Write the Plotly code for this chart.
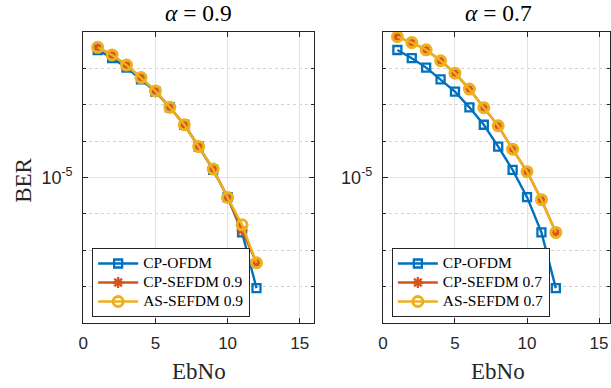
import plotly.graph_objects as go

# ---------------- data ----------------
ebno = [1, 2, 3, 4, 5, 6, 7, 8, 9, 10, 11, 12]

ber_cp_ofdm = [3.20e-2, 1.91e-2, 1.05e-2, 5.0e-3, 2.29e-3, 8.5e-4, 2.82e-4,
               7.1e-5, 1.62e-5, 2.88e-6, 3.1e-7, 9.1e-9]

ber_cp_sefdm_09 = [3.8e-2, 2.34e-2, 1.23e-2, 5.6e-3, 2.4e-3, 8.5e-4, 2.82e-4,
                   7.1e-5, 1.70e-5, 2.82e-6, 3.5e-7, 4.5e-8]
ber_as_sefdm_09 = [3.8e-2, 2.34e-2, 1.23e-2, 5.6e-3, 2.4e-3, 8.5e-4, 2.82e-4,
                   7.1e-5, 1.70e-5, 2.82e-6, 5.0e-7, 4.5e-8]

ber_cp_sefdm_07 = [7.41e-2, 5.13e-2, 3.24e-2, 1.62e-2, 7.4e-3, 2.69e-3, 8.3e-4,
                   2.63e-4, 6.0e-5, 1.45e-5, 2.45e-6, 3.1e-7]
ber_as_sefdm_07 = [7.41e-2, 5.13e-2, 3.24e-2, 1.62e-2, 7.4e-3, 2.69e-3, 8.3e-4,
                   2.63e-4, 6.0e-5, 1.45e-5, 2.45e-6, 3.1e-7]

x_ticks = [0, 5, 10, 15]
y_major = [1e-5]
y_major_text = ["10<sup>-5</sup>"]
y_minor = [1e-9, 1e-8, 1e-7, 1e-6, 1e-4, 1e-3, 1e-2, 1e-1]

titles = ["<i>α</i> = 0.9", "<i>α</i> = 0.7"]
names_left = ["CP-OFDM", "CP-SEFDM 0.9", "AS-SEFDM 0.9"]
names_right = ["CP-OFDM", "CP-SEFDM 0.7", "AS-SEFDM 0.7"]

# ---------------- styles ----------------
BLUE = "#0072BD"
ORANGE = "#D95319"
YELLOW = "#EDB120"
SERIF = "Liberation Serif"
SANS = "Liberation Sans"
AXC = "#262626"


def big(s):
    return '<span style="font-size:15.5px">' + s + "</span>"


def add_set(fig, xa, ya, leg, names, y1, y2, y3):
    fig.add_trace(go.Scatter(
        x=ebno, y=y1, name=big(names[0]), xaxis=xa, yaxis=ya, legend=leg,
        mode="lines+markers",
        line=dict(color=BLUE, width=2.4),
        marker=dict(symbol="square-open", size=8, color=BLUE,
                    line=dict(color=BLUE, width=2.3))))
    fig.add_trace(go.Scatter(
        x=ebno, y=y2, name=big(names[1]), xaxis=xa, yaxis=ya, legend=leg,
        mode="lines+markers",
        line=dict(color=ORANGE, width=2.4),
        marker=dict(symbol="asterisk-open", size=9, color=ORANGE,
                    line=dict(color=ORANGE, width=2.3))))
    fig.add_trace(go.Scatter(
        x=ebno, y=y3, name=big(names[2]), xaxis=xa, yaxis=ya, legend=leg,
        mode="lines+markers",
        line=dict(color=YELLOW, width=2.4),
        marker=dict(symbol="circle-open", size=10, color=YELLOW,
                    line=dict(color=YELLOW, width=3))))


fig = go.Figure()
add_set(fig, "x", "y", "legend", names_left,
        ber_cp_ofdm, ber_cp_sefdm_09, ber_as_sefdm_09)
add_set(fig, "x2", "y2", "legend2", names_right,
        ber_cp_ofdm, ber_cp_sefdm_07, ber_as_sefdm_07)

W, H = 611, 388
xl0, xl1 = 79 / W, 312.3 / W
xr0, xr1 = 381.7 / W, 1.0
yd = [(H - 323) / H, (H - 32) / H]


def xaxis(domain, rng, anchor):
    return dict(domain=domain, range=rng, anchor=anchor,
                tickmode="array", tickvals=x_ticks,
                ticks="inside", ticklen=5, tickcolor=AXC,
                showline=True, linecolor=AXC, linewidth=1, mirror="allticks",
                showgrid=True, gridcolor="#e3e3e3", gridwidth=1,
                zeroline=False, ticklabelstandoff=5,
                tickfont=dict(family=SANS, size=17, color=AXC))


def yaxis(anchor, mirror):
    return dict(domain=yd, type="log", range=[-9, -1], anchor=anchor,
                tickmode="array", tickvals=y_major, ticktext=y_major_text,
                ticks="inside", ticklen=5, tickcolor=AXC,
                showline=True, linecolor=AXC, linewidth=1, mirror=mirror,
                showgrid=True, gridcolor="#e3e3e3", gridwidth=1,
                zeroline=False, ticklabelstandoff=6,
                minor=dict(tickmode="array", tickvals=y_minor, ticks="inside",
                           ticklen=3, tickcolor=AXC, showgrid=True,
                           griddash="dot", gridcolor="#d2d2d2", gridwidth=1),
                tickfont=dict(family=SANS, size=18, color=AXC))


def legend(x, y):
    return dict(x=x, y=y, xanchor="left", yanchor="top",
                bgcolor="white", bordercolor=AXC, borderwidth=1,
                font=dict(family=SERIF, size=11.5, color="#000"),
                itemwidth=40, tracegroupgap=0)


def ann(text, x, y, size, angle=0, color="#000"):
    return dict(text=text, x=x, y=y, xref="paper", yref="paper",
                xanchor="center", yanchor="middle", showarrow=False,
                textangle=angle,
                font=dict(family=SERIF, size=size, color=color))


fig.update_layout(
    width=W, height=H,
    margin=dict(l=0, r=0, t=0, b=0),
    paper_bgcolor="white", plot_bgcolor="white",
    showlegend=True,
    xaxis=xaxis([xl0, xl1], [0, 16], "y"),
    yaxis=yaxis("x", "allticks"),
    xaxis2=xaxis([xr0, xr1], [0, 15.76], "y2"),
    yaxis2=yaxis("x2", "allticks"),
    legend=legend(88 / W, 1 - 248 / H),
    legend2=legend(390.7 / W, 1 - 248 / H),
    annotations=[
        ann(titles[0], (79 + 312.3) / 2 / W, 1 - 13 / H, 23.5),
        ann(titles[1], (381.7 + 614.5) / 2 / W, 1 - 13 / H, 23.5),
        ann("EbNo", (79 + 312.3) / 2 / W, 1 - 371 / H, 23, color=AXC),
        ann("EbNo", 497.7 / W, 1 - 371 / H, 23, color=AXC),
        ann("BER", 18.5 / W, 1 - 180.5 / H, 23, angle=-90, color=AXC),
    ],
)

fig.write_html("out.html")
